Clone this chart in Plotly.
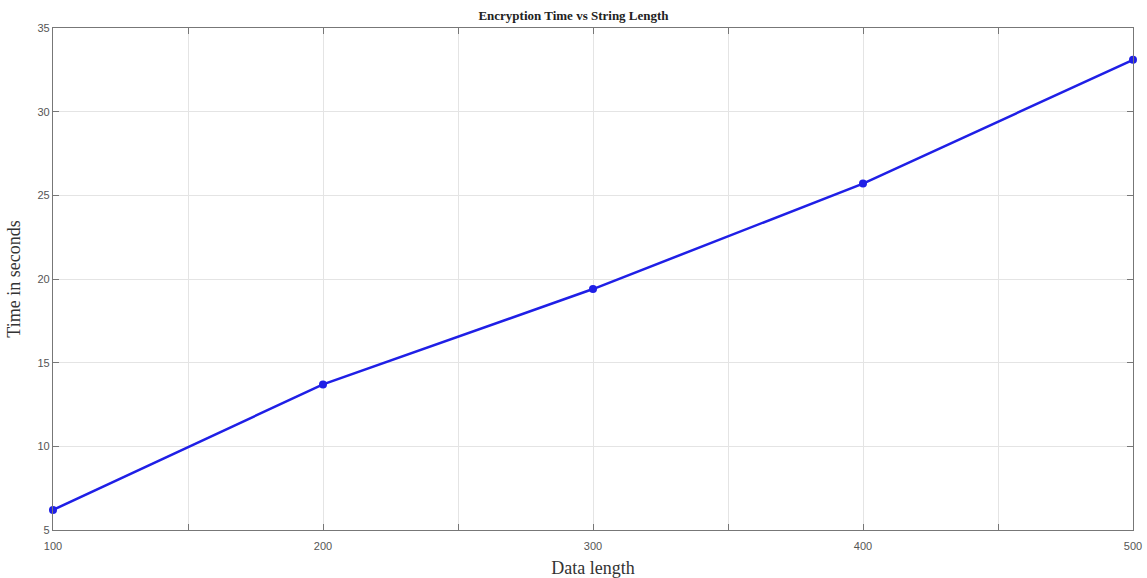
import plotly.graph_objects as go

data_length = [100, 200, 300, 400, 500]
time_seconds = [6.2, 13.7, 19.4, 25.7, 33.1]
x_tick_vals = [100, 150, 200, 250, 300, 350, 400, 450, 500]
x_tick_text = ["100", "", "200", "", "300", "", "400", "", "500"]
y_tick_vals = [5, 10, 15, 20, 25, 30, 35]

fig = go.Figure()
fig.add_trace(go.Scatter(
    x=data_length, y=time_seconds, mode="lines+markers",
    line=dict(color="#1f1fe6", width=2.5),
    marker=dict(color="#1f1fe6", size=8),
    showlegend=False, cliponaxis=False,
))

axis_common = dict(
    showline=True, linecolor="#777777", linewidth=1.2, mirror="ticks",
    ticks="inside", ticklen=6, tickcolor="#777777",
    showgrid=True, gridcolor="#e4e4e4", gridwidth=1,
    zeroline=False, automargin=False,
    tickfont=dict(family="Liberation Sans, Arial, sans-serif", size=11, color="#555555"),
)

fig.update_layout(
    width=1147, height=578,
    margin=dict(l=53, r=14, t=28, b=48),
    paper_bgcolor="white", plot_bgcolor="white",
    title=dict(text="<b>Encryption Time vs String Length</b>", x=0.5, xanchor="center",
               y=1 - 15 / 578, yanchor="middle",
               font=dict(family="Liberation Serif, Times New Roman, serif", size=13, color="#222222")),
    xaxis=dict(axis_common, range=[100, 500], tickvals=x_tick_vals, ticktext=x_tick_text,
               ticklabelstandoff=6,
               title=dict(text="Data length", standoff=10,
                          font=dict(family="Liberation Serif, Times New Roman, serif", size=18, color="#333333"))),
    yaxis=dict(axis_common, range=[5, 35], tickvals=y_tick_vals,
               title=dict(text="Time in seconds", standoff=12,
                          font=dict(family="Liberation Serif, Times New Roman, serif", size=18, color="#333333"))),
)

fig.write_html("out.html")
